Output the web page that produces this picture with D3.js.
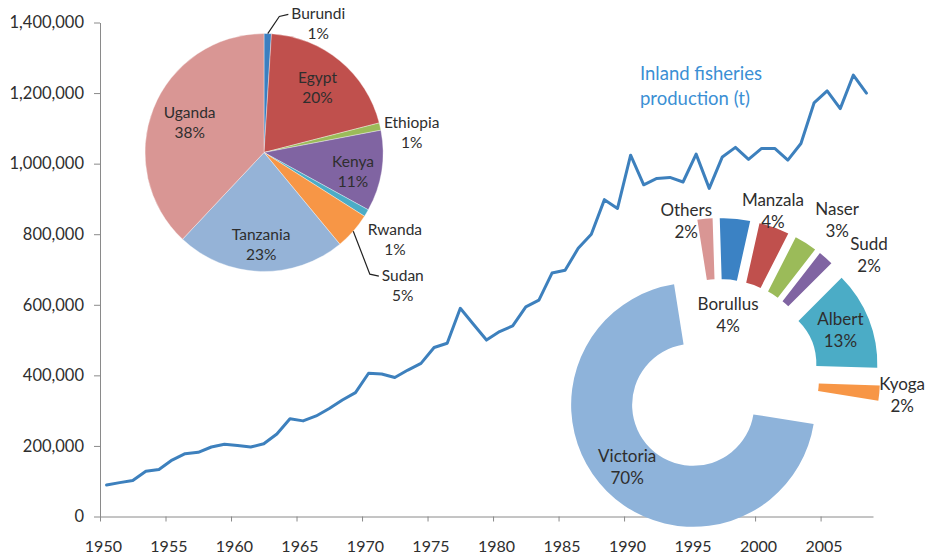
<!DOCTYPE html>
<html>
<head>
<meta charset="utf-8">
<script src="https://cdn.jsdelivr.net/npm/d3@7"></script>
<style>
  html, body { margin: 0; padding: 0; background: #fff; }
  svg { display: block; font-family: Lato, "Open Sans", sans-serif; }
</style>
</head>
<body>
<svg id="chart" width="926" height="559"></svg>
<script>
// ---- Inland fisheries production, tonnes per year ----
const years = d3.range(1950, 2009);
const production = [
  89000, 96000, 102000, 128000, 133000, 160000, 178000, 182000, 197000, 205000,
  201000, 197000, 206000, 234000, 277000, 271000, 285000, 306000, 330000, 351000,
  406000, 404000, 394000, 415000, 434000, 479000, 491000, 590000, 545000, 500000,
  524000, 540000, 594000, 613000, 690000, 698000, 760000, 800000, 898000, 873000,
  1024000, 940000, 958000, 961000, 948000, 1027000, 930000, 1019000, 1046000, 1012000,
  1043000, 1043000, 1010000, 1057000, 1172000, 1206000, 1156000, 1251000, 1200000
];
const yTicks = [0, 200000, 400000, 600000, 800000, 1000000, 1200000, 1400000];
const xTickYears = [1950, 1955, 1960, 1965, 1970, 1975, 1980, 1985, 1990, 1995, 2000, 2005];
const titleLines = ["Inland fisheries", "production (t)"];

// ---- Share of production by country (%) ----
const countries = ["Burundi", "Egypt", "Ethiopia", "Kenya", "Rwanda", "Sudan", "Tanzania", "Uganda"];
const countryShare = [1, 20, 1, 11, 1, 5, 23, 38];
const countryColors = ["#3b7fc0", "#c0504d", "#9bbb59", "#8064a2", "#4bacc6", "#f79646", "#95b3d7", "#d99694"];

// ---- Share of production by water body (%) ----
const lakes = ["Victoria", "Others", "Borullus", "Manzala", "Naser", "Sudd", "Albert", "Kyoga"];
const lakeShare = [70, 2, 4, 4, 3, 2, 13, 2];
const lakeColors = ["#8eb3da", "#d99694", "#3b82c4", "#c0504d", "#9bbb59", "#8064a2", "#4bacc6", "#f79646"];

// ---- layout ----
const svg = d3.select("#chart");
const plot = { left: 100, right: 873, top: 22.5, bottom: 516.5 };
const axisColor = "#8a8a8a";
const textColor = "#2e2e2e";

const x = d3.scaleBand().domain(years).range([plot.left, plot.right]);
const xEdge = d3.scaleLinear().domain([1950, 2009]).range([plot.left, plot.right]);
const y = d3.scaleLinear().domain([0, 1400000]).range([plot.bottom, plot.top]);

// y axis
const gy = svg.append("g")
  .attr("transform", `translate(${plot.left},0)`)
  .call(d3.axisLeft(y).tickValues(yTicks).tickFormat(d3.format(","))
    .tickSize(6).tickSizeOuter(0).tickPadding(10));
gy.select(".domain").attr("stroke", axisColor);
gy.selectAll(".tick line").attr("stroke", axisColor);
gy.selectAll(".tick text").attr("fill", textColor)
  .style("font-size", "16.5px").style("font-family", "Lato, sans-serif");

// x axis: ticks sit between categories
const gx = svg.append("g")
  .attr("transform", `translate(0,${plot.bottom})`)
  .call(d3.axisBottom(xEdge).tickValues(xTickYears).tickFormat(d3.format("d"))
    .tickSize(5).tickSizeOuter(0).tickPadding(19));
gx.select(".domain").attr("stroke", axisColor);
gx.selectAll(".tick line").attr("stroke", axisColor);
gx.selectAll(".tick text").attr("fill", textColor)
  .attr("dx", x.bandwidth() * 0.22)
  .style("font-size", "16px").style("font-family", "Lato, sans-serif");

// production line
const lineData = years.map((yr, i) => ({ year: yr, value: production[i] }));
svg.append("path")
  .datum(lineData)
  .attr("fill", "none")
  .attr("stroke", "#3d80bd")
  .attr("stroke-width", 3)
  .attr("stroke-linejoin", "round")
  .attr("stroke-linecap", "round")
  .attr("d", d3.line()
    .x(d => x(d.year) + x.bandwidth() / 2)
    .y(d => y(d.value)));

// series title
svg.append("text")
  .attr("x", 640).attr("y", 80)
  .attr("fill", "#3b8fd4")
  .style("font-size", "18.5px")
  .selectAll("tspan").data(titleLines).join("tspan")
  .attr("x", 640).attr("dy", (d, i) => i === 0 ? 0 : 25)
  .text(d => d);

// helper: point at compass angle (radians, clockwise from 12 o'clock)
const polar = (cx, cy, ang, dist) => [cx + dist * Math.sin(ang), cy - dist * Math.cos(ang)];
const deg = Math.PI / 180;

function twoLineLabel(g, cx, cy, name, pct, size, gap) {
  const t = g.append("text")
    .attr("text-anchor", "middle")
    .attr("fill", textColor)
    .style("font-size", size + "px");
  t.append("tspan").attr("x", cx).attr("y", cy - gap / 2).attr("dy", "0.35em").text(name);
  t.append("tspan").attr("x", cx).attr("y", cy + gap / 2).attr("dy", "0.35em").text(pct + "%");
  return t;
}

// ---- country pie ----
const pieC = [264, 152.5], pieR = 119, pieGap = 20;
const pieArcs = d3.pie().sort(null)(countryShare);
const pieG = svg.append("g");
const arcPie = d3.arc().innerRadius(0).outerRadius(pieR);
pieG.selectAll("path").data(pieArcs).join("path")
  .attr("transform", `translate(${pieC[0]},${pieC[1]})`)
  .attr("d", arcPie)
  .attr("fill", (d, i) => countryColors[i])
  .attr("stroke", "#fff").attr("stroke-width", 0.6).attr("stroke-opacity", 0.6);

// label spots: distance from centre and optional compass angle (deg)
const pieLabelPlace = {
  Burundi:  { dist: 140, ang: 22.8, leader: true },
  Egypt:    { dist: 84 },
  Ethiopia: { dist: 149, ang: 82.3 },
  Kenya:    { dist: 91, ang: 102 },
  Rwanda:   { dist: 157, ang: 123.5 },
  Sudan:    { dist: 192, ang: 133.7, leader: true },
  Tanzania: { dist: 92 },
  Uganda:   { dist: 80 }
};
pieArcs.forEach((a, i) => {
  const name = countries[i];
  const p = pieLabelPlace[name];
  const mid = (a.startAngle + a.endAngle) / 2;
  const ang = p.ang !== undefined ? p.ang * deg : mid;
  const [lx, ly] = polar(pieC[0], pieC[1], ang, p.dist);
  const t = twoLineLabel(pieG, lx, ly, name, countryShare[i], 15.5, pieGap);
  if (p.leader) {
    const w = t.node().getBBox().width;
    const [sx, sy] = polar(pieC[0], pieC[1], mid, pieR);
    const ex = lx - w / 2 - 3;
    const ey = ly - pieGap / 2 + 1;
    const elbowX = ex - 9;
    const elbowY = ey + (sy < ey ? -2 : 2);
    pieG.append("path")
      .attr("d", `M${sx},${sy}L${elbowX},${elbowY}L${ex},${ey}`)
      .attr("fill", "none").attr("stroke", "#222").attr("stroke-width", 1.2);
  }
});

// ---- water body doughnut (exploded) ----
const donutC = [720, 378], donutR = 122, donutr = 61, explode = 38;
const donutStart = 99 * deg;
const donutArcs = d3.pie().sort(null)
  .startAngle(donutStart).endAngle(donutStart + 2 * Math.PI)(lakeShare);
const arcDonut = d3.arc().innerRadius(donutr).outerRadius(donutR);
const donutG = svg.append("g");
const lakeLabelPlace = {
  Victoria: { dist: 91, ang: 226.5 },
  Others:   { dist: 123, ang: 345.8 },
  Borullus: { dist: 26, ang: 10 },
  Manzala:  { dist: 137, ang: 17 },
  Naser:    { dist: 159, ang: 37.5 },
  Sudd:     { dist: 156, ang: 52.6 },
  Albert:   {},
  Kyoga:    { dist: 145, ang: 95.4 }
};
const donutSlices = donutArcs.map((a, i) => {
  const mid = (a.startAngle + a.endAngle) / 2;
  const [cx, cy] = polar(donutC[0], donutC[1], mid, explode);
  return { a, i, mid, cx, cy };
});
donutG.selectAll("path").data(donutSlices).join("path")
  .attr("transform", d => `translate(${d.cx},${d.cy})`)
  .attr("d", d => arcDonut(d.a))
  .attr("fill", d => lakeColors[d.i]);
donutSlices.forEach(d => {
  const name = lakes[d.i];
  const p = lakeLabelPlace[name];
  const ang = p.ang !== undefined ? p.ang * deg : d.mid;
  const dist = p.dist !== undefined ? p.dist : (donutR + donutr) / 2;
  const [lx, ly] = polar(d.cx, d.cy, ang, dist);
  twoLineLabel(donutG, lx, ly, name, lakeShare[d.i], 17, 22);
});
</script>
</body>
</html>
